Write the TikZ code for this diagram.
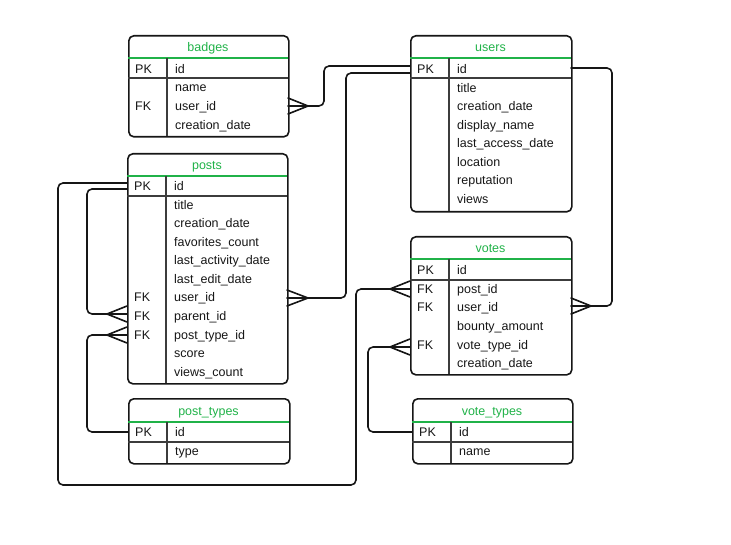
\documentclass[tikz,border=0pt]{standalone}
\usepackage{fontspec}
\setmainfont{Liberation Sans}
\definecolor{titlegreen}{RGB}{32,178,72}
\definecolor{ink}{RGB}{22,22,22}
\definecolor{rulegray}{RGB}{60,60,60}

% #1 name, #2 left, #3 top, #4 right, #5 bottom, #6 divider x, #7 title rule y, #8 title, #9 key rule y
\newcommand\ertable[9]{%
  \node[tablebox, anchor=north west, minimum width={(#4-#2)*1pt}, minimum height={(#5-#3)*1pt}] (#1) at (#2,#3) {};
  \draw[titlerule] (#2,#7) -- (#4,#7);
  \draw[keyrule] (#2,#9) -- (#4,#9);
  \draw[colrule] (#6,#7) -- (#6,#5);
  \node[titletext] (#1-title) at ({(#2+#4)/2},{(#3+#7)/2+0.5}) {#8};
}
% crow's foot: #1 point on the table edge, #2 signed offset of the joint
\newcommand\crowfoot[2]{%
  \draw[link] ([yshift=8pt]#1) -- ([xshift=#2]#1) -- ([yshift=-8pt]#1);
  \draw[link] (#1) -- ([xshift=#2]#1);
}

\begin{document}
\begin{tikzpicture}[x=1pt,y=-1pt,
  tablebox/.style={draw=ink, line width=1.6pt, rounded corners=5pt, inner sep=0pt},
  titlerule/.style={draw=titlegreen, line width=1.4pt},
  keyrule/.style={draw=rulegray, line width=1.2pt},
  colrule/.style={draw=rulegray, line width=1.2pt},
  titletext/.style={text=titlegreen, font=\fontsize{12.5}{14}\selectfont, inner sep=0pt, text height=9pt, text depth=3pt, yshift=-1.5pt},
  celltext/.style={text=ink, font=\fontsize{12.5}{14}\selectfont, inner sep=0pt, anchor=west, text height=9pt, text depth=3pt, yshift=-1.5pt},
  link/.style={draw=ink, line width=1.6pt, line cap=round, line join=round},
  route/.style={link, rounded corners=5pt},
]
\useasboundingbox (0,0) rectangle (731,545);

% ---------- badges ----------
\ertable{badges}{128}{35}{288}{136}{167}{58}{badges}{78}
\node[celltext] (badges-pk) at (135,69) {PK};
\node[celltext] (badges-id) at (175,69) {id};
\node[celltext] (badges-name) at (175,87.5) {name};
\node[celltext] (badges-fk) at (135,106) {FK};
\node[celltext] (badges-userid) at (175,106) {user\_id};
\node[celltext] (badges-cdate) at (175,125) {creation\_date};

% ---------- users ----------
\ertable{users}{410}{35}{571}{211}{449}{58}{users}{78}
\node[celltext] (users-pk) at (417,69) {PK};
\node[celltext] (users-id) at (457,69) {id};
\node[celltext] (users-title) at (457,88) {title};
\node[celltext] (users-cdate) at (457,106.5) {creation\_date};
\node[celltext] (users-dname) at (457,125) {display\_name};
\node[celltext] (users-ladate) at (457,143.5) {last\_access\_date};
\node[celltext] (users-loc) at (457,162) {location};
\node[celltext] (users-rep) at (457,180.5) {reputation};
\node[celltext] (users-views) at (457,199) {views};

% ---------- posts ----------
\ertable{posts}{127}{153}{287}{383}{166}{176}{posts}{196}
\node[celltext] (posts-pk) at (134,186) {PK};
\node[celltext] (posts-id) at (174,186) {id};
\node[celltext] (posts-title) at (174,205) {title};
\node[celltext] (posts-cdate) at (174,223.5) {creation\_date};
\node[celltext] (posts-fav) at (174,242) {favorites\_count};
\node[celltext] (posts-lact) at (174,260.5) {last\_activity\_date};
\node[celltext] (posts-ledit) at (174,279) {last\_edit\_date};
\node[celltext] (posts-fk1) at (134,297.5) {FK};
\node[celltext] (posts-userid) at (174,297.5) {user\_id};
\node[celltext] (posts-fk2) at (134,316) {FK};
\node[celltext] (posts-parent) at (174,316) {parent\_id};
\node[celltext] (posts-fk3) at (134,334.5) {FK};
\node[celltext] (posts-ptype) at (174,334.5) {post\_type\_id};
\node[celltext] (posts-score) at (174,353) {score};
\node[celltext] (posts-views) at (174,371.5) {views\_count};

% ---------- votes ----------
\ertable{votes}{410}{236}{571}{374}{449}{259}{votes}{280}
\node[celltext] (votes-pk) at (417,270) {PK};
\node[celltext] (votes-id) at (457,270) {id};
\node[celltext] (votes-fk1) at (417,289) {FK};
\node[celltext] (votes-postid) at (457,289) {post\_id};
\node[celltext] (votes-fk2) at (417,307.5) {FK};
\node[celltext] (votes-userid) at (457,307.5) {user\_id};
\node[celltext] (votes-bounty) at (457,326) {bounty\_amount};
\node[celltext] (votes-fk3) at (417,345) {FK};
\node[celltext] (votes-vtype) at (457,344.5) {vote\_type\_id};
\node[celltext] (votes-cdate) at (457,363) {creation\_date};

% ---------- post_types ----------
\ertable{posttypes}{128}{398}{289}{463}{167}{422}{post\_types}{442}
\node[celltext] (posttypes-pk) at (135,432) {PK};
\node[celltext] (posttypes-id) at (175,432) {id};
\node[celltext] (posttypes-type) at (175,451) {type};

% ---------- vote_types ----------
\ertable{votetypes}{412}{398}{572}{463}{451}{422}{vote\_types}{442}
\node[celltext] (votetypes-pk) at (419,432) {PK};
\node[celltext] (votetypes-id) at (459,432) {id};
\node[celltext] (votetypes-name) at (459,451) {name};

% ---------- relationship end points on table edges ----------
\coordinate (badges-uid-end) at (288,106);
\coordinate (users-pk-a) at (410,66);
\coordinate (users-pk-b) at (410,73);
\coordinate (users-pk-c) at (571,68);
\coordinate (posts-uid-end) at (287,298);
\coordinate (votes-uid-end) at (571,306);
\coordinate (posts-pk-a) at (127,183);
\coordinate (posts-pk-b) at (127,189);
\coordinate (posts-parent-end) at (127,314);
\coordinate (posts-ptype-end) at (127,335);
\coordinate (votes-post-end) at (410,289);
\coordinate (votes-vtype-end) at (410,347);
\coordinate (posttypes-pk-end) at (128,432);
\coordinate (votetypes-pk-end) at (412,432);

% badges.user_id -> users.id
\crowfoot{badges-uid-end}{20pt}
\draw[route] ([xshift=20pt]badges-uid-end) -- (324,106) -- (324,66) -- (users-pk-a);

% posts.user_id -> users.id
\crowfoot{posts-uid-end}{21pt}
\draw[route] ([xshift=21pt]posts-uid-end) -- (346,298) -- (346,73) -- (users-pk-b);

% votes.user_id -> users.id
\crowfoot{votes-uid-end}{20pt}
\draw[route] ([xshift=20pt]votes-uid-end) -- (612,306) -- (612,68) -- (users-pk-c);

% posts.parent_id -> posts.id
\crowfoot{posts-parent-end}{-20pt}
\draw[route] ([xshift=-20pt]posts-parent-end) -- (87,314) -- (87,189) -- (posts-pk-b);

% posts.post_type_id -> post_types.id
\crowfoot{posts-ptype-end}{-20pt}
\draw[route] ([xshift=-20pt]posts-ptype-end) -- (87,335) -- (87,432) -- (posttypes-pk-end);

% votes.post_id -> posts.id
\crowfoot{votes-post-end}{-20pt}
\draw[route] ([xshift=-20pt]votes-post-end) -- (356,289) -- (356,485) -- (58,485) -- (58,183) -- (posts-pk-a);

% votes.vote_type_id -> vote_types.id
\crowfoot{votes-vtype-end}{-20pt}
\draw[route] ([xshift=-20pt]votes-vtype-end) -- (368,347) -- (368,432) -- (votetypes-pk-end);

\end{tikzpicture}
\end{document}
